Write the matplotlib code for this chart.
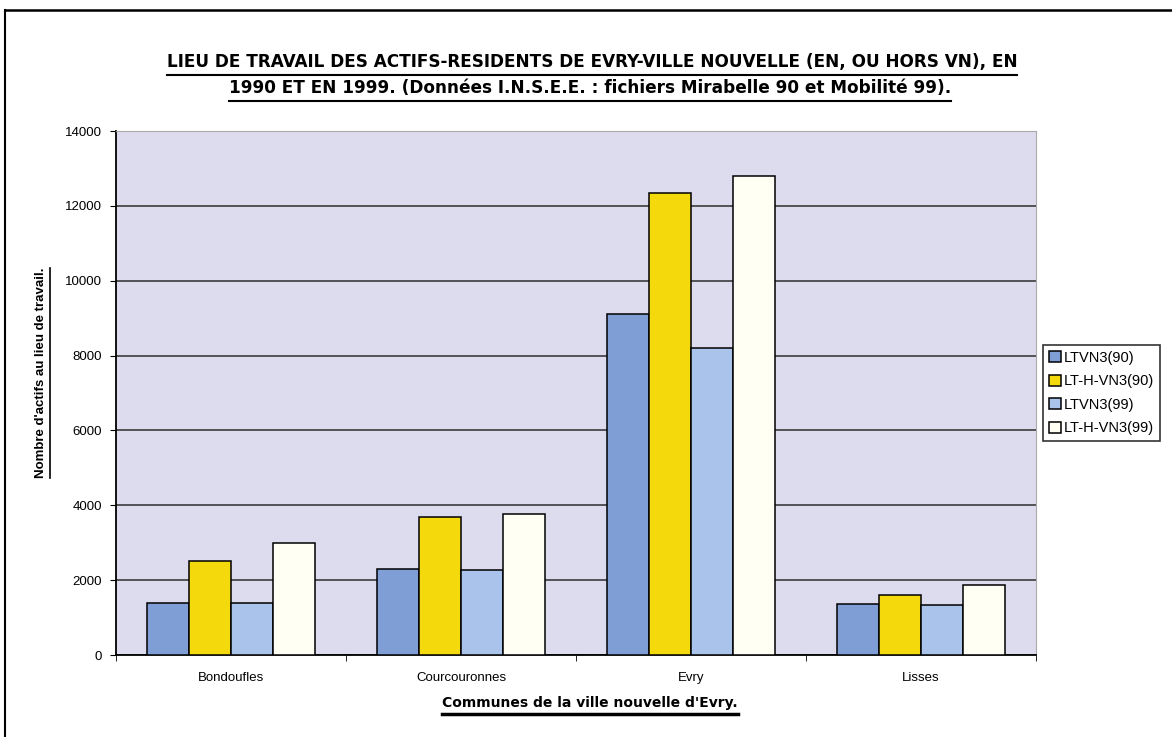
import matplotlib
matplotlib.use("Agg")
from matplotlib import pyplot as plt
from matplotlib.lines import Line2D
import numpy as np

# data
communes = ["Bondoufles", "Courcouronnes", "Evry", "Lisses"]
series_names = ["LTVN3(90)", "LT-H-VN3(90)", "LTVN3(99)", "LT-H-VN3(99)"]
ltvn3_90 = [1380, 2300, 9100, 1350]
lt_h_vn3_90 = [2520, 3700, 12350, 1590]
ltvn3_99 = [1400, 2260, 8200, 1330]
lt_h_vn3_99 = [2980, 3780, 12800, 1880]
y_ticks = [0, 2000, 4000, 6000, 8000, 10000, 12000, 14000]

colors = ["#7f9ed6", "#f4da0c", "#a9c3ea", "#fffff4"]
narrow = ["Liberation Sans Narrow", "DejaVu Sans"]
plt.rcParams["font.family"] = ["Liberation Sans", "DejaVu Sans"]

fig = plt.figure(figsize=(11.72, 7.37), dpi=100)
ax = fig.add_axes([116 / 1172, 1 - 655 / 737, (1036 - 116) / 1172, (655 - 131) / 737])
ax.set_facecolor("#dddbee")

x = np.arange(len(communes))
w = 0.183
all_series = [ltvn3_90, lt_h_vn3_90, ltvn3_99, lt_h_vn3_99]
for i, (vals, c, name) in enumerate(zip(all_series, colors, series_names)):
    ax.bar(x + (i - 1.5) * w, vals, width=w, color=c, edgecolor="black",
           linewidth=1.1, label=name, zorder=3)

ax.set_ylim(0, 14000)
ax.set_xlim(-0.5, len(communes) - 0.5)
ax.set_yticks(y_ticks)
ax.set_yticklabels([str(t) for t in y_ticks], fontsize=9.5)
ax.yaxis.grid(True, color="#2e2e2e", linewidth=1.1, zorder=1)
ax.set_axisbelow(True)

ax.set_xticks(x)
ax.set_xticklabels(communes, fontsize=9.5)
ax.set_xticks(np.arange(-0.5, len(communes)), minor=True)
ax.tick_params(axis="x", which="major", length=0, pad=12)
ax.tick_params(axis="x", which="minor", length=4, direction="out")
ax.tick_params(axis="y", length=4, direction="out", pad=6)

for s in ["top", "right"]:
    ax.spines[s].set_color("#aaaaaa")
    ax.spines[s].set_linewidth(0.8)
ax.spines["left"].set_linewidth(1.3)
ax.spines["bottom"].set_linewidth(1.3)

title1 = fig.text(592 / 1172, 1 - 62 / 737,
                  "LIEU DE TRAVAIL DES ACTIFS-RESIDENTS DE EVRY-VILLE NOUVELLE (EN, OU HORS VN), EN",
                  ha="center", va="center", fontsize=12.2, fontweight="bold", family=narrow)
title2 = fig.text(590 / 1172, 1 - 88 / 737,
                  "1990 ET EN 1999. (Données I.N.S.E.E. : fichiers Mirabelle 90 et Mobilité 99).",
                  ha="center", va="center", fontsize=12.2, fontweight="bold", family=narrow)
xlab = fig.text(590 / 1172, 1 - 703 / 737, "Communes de la ville nouvelle d'Evry.",
                ha="center", va="center", fontsize=10, fontweight="bold", family=narrow)
ylab = fig.text(41 / 1172, 1 - 373 / 737, "Nombre d'actifs au lieu de travail.",
                ha="center", va="center", rotation=90, fontsize=9.5, fontweight="bold")

leg = fig.legend(loc="upper left", bbox_to_anchor=(1043 / 1172, 1 - 345 / 737),
                 fontsize=10.5, frameon=True, fancybox=False, handlelength=0.8,
                 handleheight=0.8, handletextpad=0.2, borderpad=0.4,
                 labelspacing=0.65, borderaxespad=0)
leg.get_frame().set_edgecolor("black")
leg.get_frame().set_linewidth(1.2)

# outer border of the scanned frame
fig.add_artist(Line2D([5 / 1172, 1], [1 - 10 / 737, 1 - 10 / 737], color="black",
                      linewidth=1.8, transform=fig.transFigure))
fig.add_artist(Line2D([5 / 1172, 5 / 1172], [0, 1 - 10 / 737], color="black",
                      linewidth=1.5, transform=fig.transFigure))

# underlines
fig.canvas.draw()
r = fig.canvas.get_renderer()
W, H = fig.bbox.width, fig.bbox.height
for t, lw in [(title1, 1.5), (title2, 1.5), (xlab, 2.5)]:
    bb = t.get_window_extent(r)
    y = bb.y0 - 4
    fig.add_artist(Line2D([bb.x0 / W, bb.x1 / W], [y / H, y / H], color="black",
                          linewidth=lw, transform=fig.transFigure))
bb = ylab.get_window_extent(r)
fig.add_artist(Line2D([(bb.x1 + 3) / W] * 2, [bb.y0 / H, bb.y1 / H], color="black",
                      linewidth=1.2, transform=fig.transFigure))

fig.savefig("out.png", dpi=100)
